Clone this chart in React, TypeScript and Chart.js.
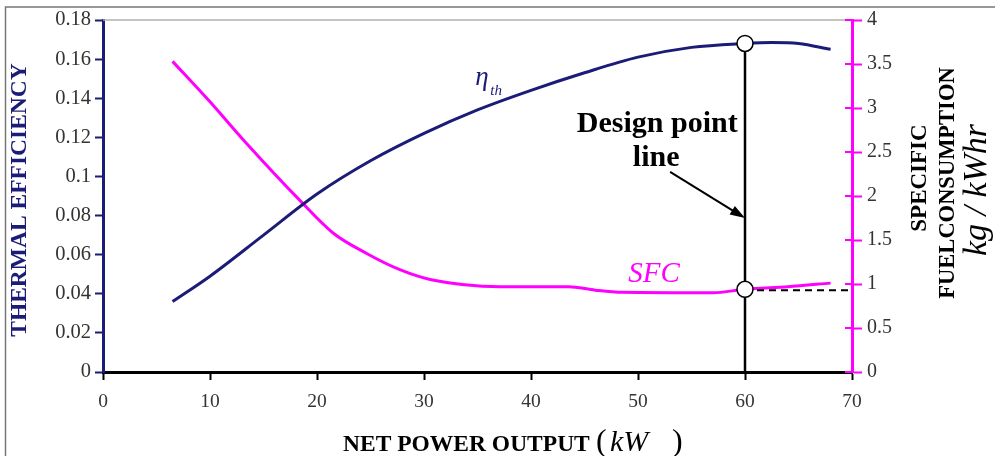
import { useEffect, useRef } from "react";
import { Chart, registerables } from "chart.js";
Chart.register(...registerables);

const etaPower = [6.5, 10, 15, 20, 25, 30, 35, 40, 45, 50, 55, 60, 62.5, 65, 68];
const etaValues = [0.036, 0.049, 0.07, 0.091, 0.108, 0.122, 0.134, 0.144, 0.153, 0.161, 0.166, 0.168, 0.1685, 0.168, 0.165];
const sfcPower = [6.5, 10, 13.1, 18.4, 21.5, 24.6, 27.8, 30.8, 37.1, 43.5, 46, 48.5, 57, 60, 64, 68];
const sfcValues = [3.53, 3.07, 2.64, 1.95, 1.58, 1.35, 1.16, 1.045, 0.97, 0.97, 0.93, 0.905, 0.9, 0.94, 0.97, 1.01];
const designPower = 60;
const designEta = 0.168;
const designSfc = 0.94;
const xAxisMax = 70;
const etaAxisMax = 0.18;
const sfcAxisMax = 4;

const NAVY = "#1b1b78";
const MAGENTA = "#ff00ff";
const SERIF = "'Liberation Serif', 'Times New Roman', serif";

const fmt = (v: any) => String(Number(Number(v).toFixed(2)));

export default function App() {
  const ref = useRef<HTMLCanvasElement>(null);
  useEffect(() => {
    if (!ref.current) return;
    const overlay = {
      id: "overlay",
      afterDatasetsDraw(chart: any) {
        const ctx = chart.ctx;
        const xs = chart.scales.x, ys = chart.scales.y, y1 = chart.scales.y1;
        const area = chart.chartArea;
        ctx.save();
        ctx.strokeStyle = "#b0b0b0";
        ctx.lineWidth = 1.5;
        ctx.beginPath();
        ctx.moveTo(area.left, area.top);
        ctx.lineTo(area.right, area.top);
        ctx.stroke();
        ctx.strokeStyle = MAGENTA;
        ctx.lineWidth = 2;
        y1.ticks.forEach((t: any) => {
          const py = y1.getPixelForValue(t.value);
          ctx.beginPath();
          ctx.moveTo(area.right - 7, py);
          ctx.lineTo(area.right, py);
          ctx.stroke();
        });
        const tx = xs.getPixelForValue(53.0), ty = ys.getPixelForValue(0.1023);
        const hx = xs.getPixelForValue(designPower), hy = ys.getPixelForValue(0.0787);
        const ang = Math.atan2(hy - ty, hx - tx);
        ctx.strokeStyle = "#000";
        ctx.fillStyle = "#000";
        ctx.lineWidth = 2;
        ctx.beginPath();
        ctx.moveTo(tx, ty);
        ctx.lineTo(hx - 10 * Math.cos(ang), hy - 10 * Math.sin(ang));
        ctx.stroke();
        ctx.beginPath();
        ctx.moveTo(hx, hy);
        ctx.lineTo(hx - 15 * Math.cos(ang) + 5 * Math.sin(ang), hy - 15 * Math.sin(ang) - 5 * Math.cos(ang));
        ctx.lineTo(hx - 15 * Math.cos(ang) - 5 * Math.sin(ang), hy - 15 * Math.sin(ang) + 5 * Math.cos(ang));
        ctx.closePath();
        ctx.fill();
        ctx.textBaseline = "alphabetic";
        ctx.fillStyle = "#000";
        ctx.font = `bold 30px ${SERIF}`;
        ctx.textAlign = "center";
        ctx.fillText("Design point", xs.getPixelForValue(51.8), ys.getPixelForValue(0.1227));
        ctx.fillText("line", xs.getPixelForValue(51.7), ys.getPixelForValue(0.1053));
        ctx.textAlign = "left";
        ctx.fillStyle = NAVY;
        ctx.font = `italic 27px ${SERIF}`;
        ctx.fillText("η", xs.getPixelForValue(34.8), ys.getPixelForValue(0.1468));
        ctx.font = `italic 15px ${SERIF}`;
        ctx.fillText("th", xs.getPixelForValue(36.2), ys.getPixelForValue(0.1416));
        ctx.fillStyle = MAGENTA;
        ctx.font = `italic 29px ${SERIF}`;
        ctx.fillText("SFC", xs.getPixelForValue(49.1), y1.getPixelForValue(1.02));
        ctx.restore();
      },
      afterDraw(chart: any) {
        const ctx = chart.ctx;
        ctx.save();
        ctx.strokeStyle = "#777";
        ctx.lineWidth = 1.5;
        ctx.beginPath();
        ctx.moveTo(5.5, 456);
        ctx.lineTo(5.5, 7);
        ctx.lineTo(995, 7);
        ctx.stroke();
        const rot = (text: string, x: number, y: number, font: string, color: string) => {
          ctx.save();
          ctx.translate(x, y);
          ctx.rotate(-Math.PI / 2);
          ctx.font = font;
          ctx.fillStyle = color;
          ctx.textAlign = "center";
          ctx.textBaseline = "middle";
          ctx.fillText(text, 0, 0);
          ctx.restore();
        };
        rot("THERMAL EFFICIENCY", 20, 200, `bold 23.5px ${SERIF}`, NAVY);
        rot("SPECIFIC", 920, 178, `bold 23px ${SERIF}`, "#000");
        rot("FUELCONSUMPTION", 948, 183, `bold 22.5px ${SERIF}`, "#000");
        rot("kg / kWhr", 977, 190, `italic 34px ${SERIF}`, "#000");
        ctx.fillStyle = "#000";
        ctx.textBaseline = "alphabetic";
        ctx.textAlign = "left";
        ctx.font = `bold 23.5px ${SERIF}`;
        ctx.fillText("NET POWER OUTPUT", 343, 451);
        ctx.font = `32px ${SERIF}`;
        ctx.fillText("(", 596, 451);
        ctx.font = `italic 30px ${SERIF}`;
        ctx.fillText("kW", 610, 451);
        ctx.font = `32px ${SERIF}`;
        ctx.fillText(")", 672, 451);
        ctx.restore();
      },
    };

    const chart = new Chart(ref.current, {
      type: "line",
      data: {
        datasets: [
          {
            label: "design eta point",
            data: [{ x: designPower, y: designEta }],
            yAxisID: "y",
            showLine: false,
            pointRadius: 8,
            pointBackgroundColor: "#fff",
            pointBorderColor: "#000",
            pointBorderWidth: 1.5,
            order: 0,
          },
          {
            label: "design sfc point",
            data: [{ x: designPower, y: designSfc }],
            yAxisID: "y1",
            showLine: false,
            pointRadius: 8,
            pointBackgroundColor: "#fff",
            pointBorderColor: "#000",
            pointBorderWidth: 1.5,
            order: 0,
          },
          {
            label: "design line",
            data: [
              { x: designPower, y: 0 },
              { x: designPower, y: designEta },
            ],
            yAxisID: "y",
            borderColor: "#000",
            borderWidth: 2.5,
            pointRadius: 0,
            order: 2,
          },
          {
            label: "sfc dashed",
            data: [
              { x: designPower, y: designSfc - 0.01 },
              { x: xAxisMax, y: designSfc - 0.01 },
            ],
            yAxisID: "y1",
            borderColor: "#000",
            borderWidth: 2,
            borderDash: [7, 5],
            pointRadius: 0,
            order: 2,
          },
          {
            label: "eta",
            data: etaPower.map((x, i) => ({ x, y: etaValues[i] })),
            yAxisID: "y",
            borderColor: NAVY,
            borderWidth: 3,
            pointRadius: 0,
            cubicInterpolationMode: "monotone",
            order: 3,
          },
          {
            label: "SFC",
            data: sfcPower.map((x, i) => ({ x, y: sfcValues[i] })),
            yAxisID: "y1",
            borderColor: MAGENTA,
            borderWidth: 3,
            pointRadius: 0,
            cubicInterpolationMode: "monotone",
            order: 3,
          },
        ],
      },
      options: {
        responsive: false,
        animation: false,
        devicePixelRatio: 1,
        layout: { padding: { top: 20, left: 0, right: 0, bottom: 0 } },
        plugins: { legend: { display: false }, tooltip: { enabled: false } },
        scales: {
          x: {
            type: "linear",
            min: 0,
            max: xAxisMax,
            afterFit: (s: any) => { s.height = 84; },
            ticks: { stepSize: 10, color: "#333", font: { family: SERIF, size: 19.5 }, padding: 10, callback: fmt },
            grid: { drawOnChartArea: false, drawTicks: true, tickLength: 8, color: "#000", tickWidth: 2 },
            border: { color: "#000", width: 3 },
          },
          y: {
            position: "left",
            min: 0,
            max: etaAxisMax,
            afterFit: (s: any) => { s.width = 103; },
            ticks: { stepSize: 0.02, color: "#333", font: { family: SERIF, size: 20.5 }, padding: 4, callback: fmt },
            grid: { drawOnChartArea: false, drawTicks: true, tickLength: 8, color: NAVY, tickWidth: 2 },
            border: { color: NAVY, width: 3 },
          },
          y1: {
            position: "right",
            min: 0,
            max: sfcAxisMax,
            afterFit: (s: any) => { s.width = 143; },
            ticks: { stepSize: 0.5, color: "#333", font: { family: SERIF, size: 20 }, padding: 5, callback: fmt },
            grid: { drawOnChartArea: false, drawTicks: true, tickLength: 10, color: MAGENTA, tickWidth: 2 },
            border: { color: MAGENTA, width: 3 },
          },
        },
      },
      plugins: [overlay],
    } as any);
    return () => chart.destroy();
  }, []);
  return (
    <div style={{ position: "absolute", left: 0, top: 0, width: 995, height: 456, background: "#fff" }}>
      <canvas ref={ref} width={995} height={456} />
    </div>
  );
}
